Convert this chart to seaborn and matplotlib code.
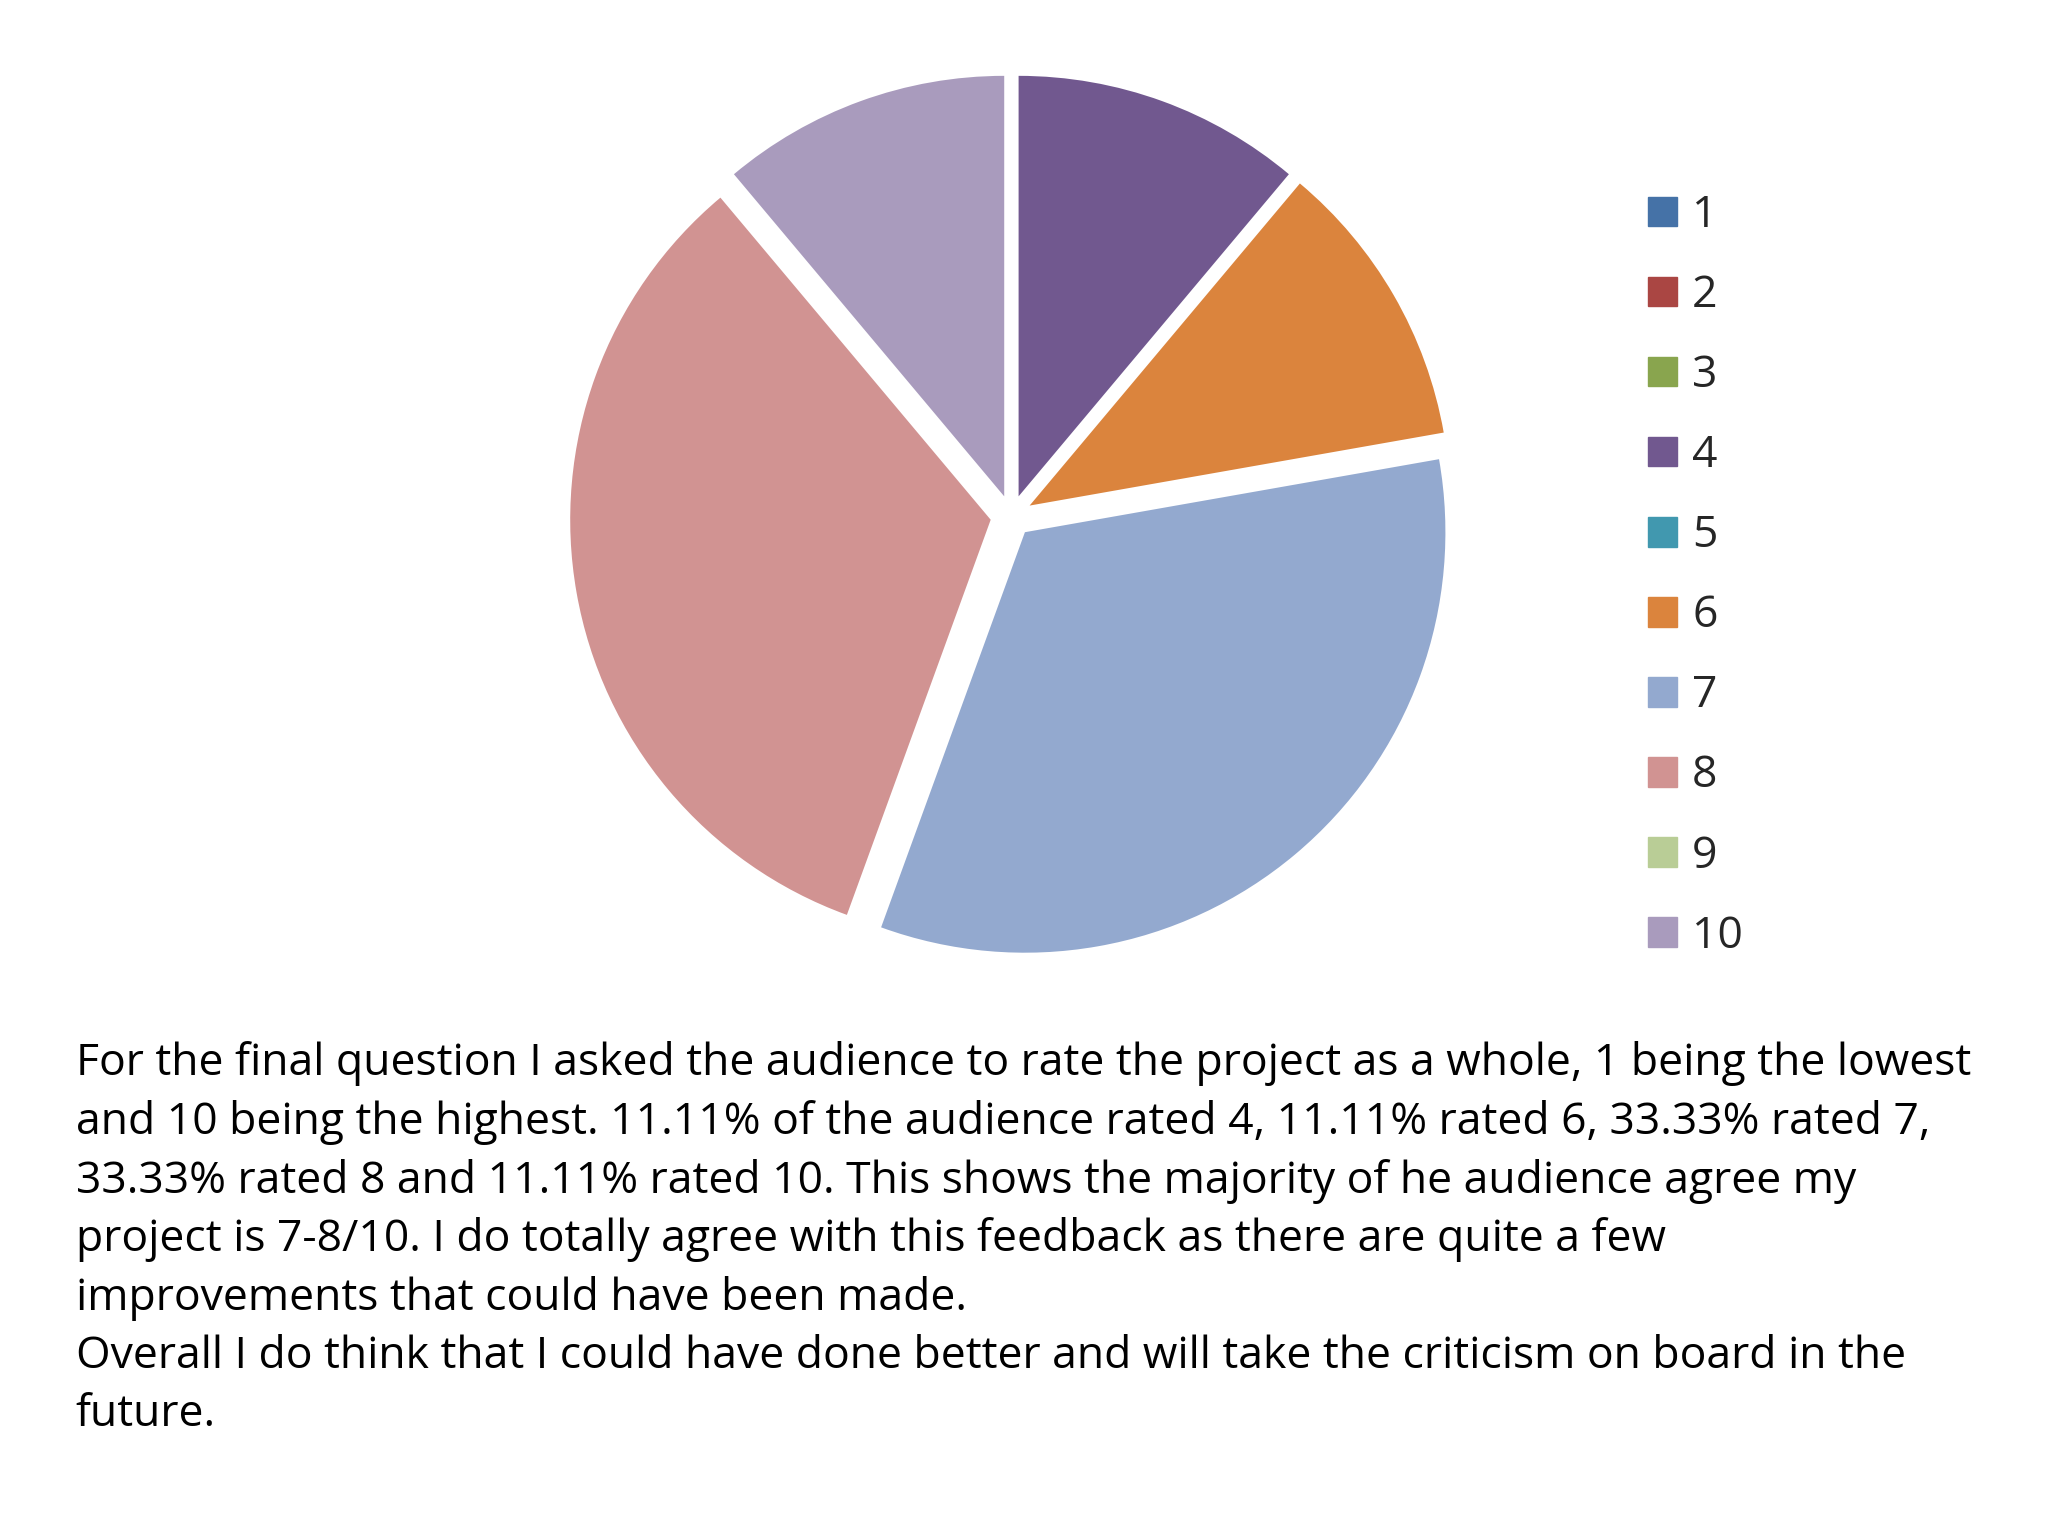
import matplotlib
matplotlib.use("Agg")
import matplotlib.pyplot as plt
import matplotlib.patches as mpatches
import seaborn as sns

sns.set_theme(style="white")
plt.rcParams['font.family'] = ['Open Sans', 'DejaVu Sans']

ratings = ["1", "2", "3", "4", "5", "6", "7", "8", "9", "10"]
shares = [0, 0, 0, 11.11, 0, 11.11, 33.33, 33.33, 0, 11.11]
colors = ["#4572A7", "#AA4643", "#89A54E", "#71588F", "#4198AF",
          "#DB843D", "#93A9CF", "#D19392", "#B9CD96", "#A99BBD"]

fig = plt.figure(figsize=(20.48, 15.36), dpi=100)
ax = fig.add_axes([0.268, 0.3626, 0.4517, 0.6028])
vals = [(v, c) for v, c in zip(shares, colors) if v > 0]
ax.pie([v for v, _ in vals], colors=[c for _, c in vals], startangle=90,
       counterclock=False, explode=[0.05] * len(vals),
       wedgeprops=dict(edgecolor="white", linewidth=0))
ax.set_xlim(-1.1, 1.1)
ax.set_ylim(-1.1, 1.1)
ax.set_aspect("equal")
ax.axis("off")

handles = [mpatches.Patch(color=c, label=r) for r, c in zip(ratings, colors)]
fig.legend(handles=handles, loc="upper left", bbox_to_anchor=(0.785, 0.9),
           frameon=False, fontsize=32, handlelength=0.65, handleheight=0.65,
           handletextpad=0.35, labelspacing=0.8)

text = ("For the final question I asked the audience to rate the project as a whole, 1 being the lowest\n"
        "and 10 being the highest. 11.11% of the audience rated 4, 11.11% rated 6, 33.33% rated 7,\n"
        "33.33% rated 8 and 11.11% rated 10. This shows the majority of he audience agree my\n"
        "project is 7-8/10. I do totally agree with this feedback as there are quite a few\n"
        "improvements that could have been made.\n"
        "Overall I do think that I could have done better and will take the criticism on board in the\n"
        "future.")
fig.text(0.037, 0.322, text, fontsize=32, va="top", ha="left", linespacing=1.4, color="black")

fig.savefig("out.png", dpi=100, facecolor="white")
